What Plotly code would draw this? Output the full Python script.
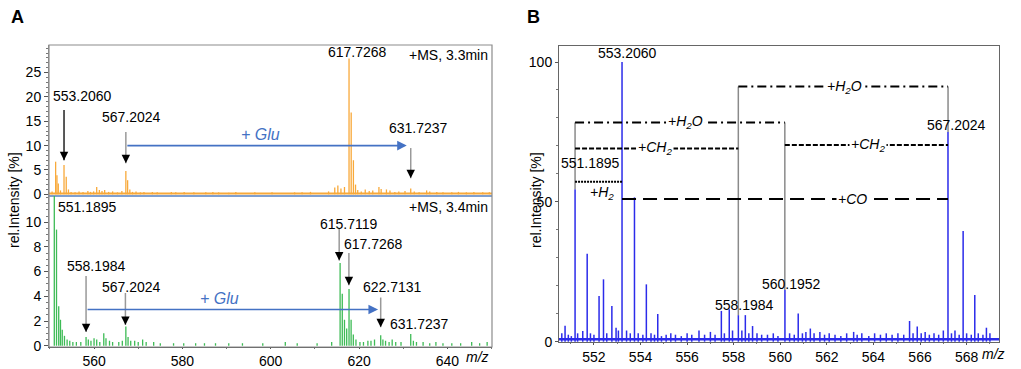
import plotly.graph_objects as go

# ---------------- data ----------------
# Panel A, upper spectrum (+MS, 3.3 min): m/z and rel. intensity [%]
a1_mz = [550.5, 551.3, 551.6, 551.9, 552.4, 553.2, 553.7, 554.2, 554.8, 555.7, 556.6, 557.5, 558.6, 559.2,
         559.9, 560.6, 561.2, 561.8, 562.4, 563.3, 564.2, 565.3, 566.3, 567.2, 567.6, 568.1, 568.7, 569.5,
         570.5, 571.3, 573.2, 574.3, 577.5, 578.5, 580.4, 582.6, 585.3, 586.9, 588.2, 590.5, 592.1, 596.4,
         600.3, 605.4, 607.1, 609.0, 613.1, 614.5, 615.2, 615.9, 616.7, 617.73, 618.22, 618.72, 619.2, 619.7,
         620.5, 621.4, 622.3, 623.1, 624.5, 625.0, 626.2, 627.0, 628.1, 629.0, 630.4, 631.7, 632.5, 633.6,
         635.3, 636.0, 637.6, 639.0, 641.0, 642.5, 644.3, 646.0, 648.0, 649.5]
a1_int = [0.6, 6.7, 3.9, 2.2, 0.8, 6.0, 3.6, 1.0, 0.5, 0.4, 0.6, 0.5, 0.7, 0.5,
          0.6, 1.5, 0.9, 0.7, 0.9, 0.5, 0.6, 0.4, 0.7, 4.8, 2.9, 1.0, 0.5, 0.6,
          0.4, 0.5, 0.5, 0.4, 0.5, 0.4, 0.5, 0.4, 0.4, 0.5, 0.4, 0.3, 0.5, 0.4,
          0.4, 0.4, 0.4, 0.5, 0.6, 1.4, 1.8, 1.2, 1.5, 27.9, 16.8, 7.0, 2.0, 0.9,
          0.6, 1.0, 0.7, 0.8, 1.5, 1.1, 1.0, 0.8, 0.5, 0.6, 0.7, 1.2, 0.6, 0.4,
          0.8, 0.6, 0.5, 0.4, 0.4, 0.5, 0.4, 0.5, 0.4, 0.4]

# Panel A, lower spectrum (+MS, 3.4 min)
a2_mz = [551.0, 551.5, 552.0, 552.4, 552.8, 553.3, 553.9, 554.5, 555.2, 556.0, 557.0, 558.19, 558.7, 559.3,
         560.0, 560.6, 561.3, 562.2, 562.7, 563.5, 564.2, 565.6, 566.4, 567.2, 567.7, 568.3, 569.2, 570.0,
         571.0, 571.8, 573.5, 575.0, 578.0, 580.3, 583.0, 585.0, 587.5, 590.5, 593.6, 598.2, 603.3, 606.0,
         610.5, 613.8, 615.71, 616.2, 616.7, 617.2, 617.73, 618.2, 618.7, 619.3, 620.2, 621.0, 622.0, 622.7,
         623.5, 624.9, 625.4, 626.0, 626.8, 627.5, 628.3, 629.5, 631.7, 632.3, 633.0, 634.5, 636.0, 637.4,
         639.0, 641.0, 643.0, 645.5, 647.3, 649.0]
a2_int = [16.0, 9.4, 3.2, 2.1, 1.3, 0.8, 0.5, 0.4, 0.3, 0.3, 0.3, 0.7, 0.5, 0.4,
          0.6, 0.5, 0.3, 1.0, 0.6, 0.4, 0.3, 0.3, 0.4, 1.55, 0.7, 0.4, 0.4, 0.3,
          0.5, 0.3, 0.3, 0.2, 0.2, 0.2, 0.2, 0.2, 0.2, 0.2, 0.2, 0.2, 0.3, 0.2,
          0.2, 0.3, 6.7, 4.2, 2.1, 1.4, 4.6, 2.1, 0.9, 0.5, 0.3, 0.3, 0.4, 0.4,
          0.5, 0.85, 0.5, 0.4, 0.3, 0.5, 0.3, 0.3, 0.95, 0.4, 0.3, 0.3, 0.2, 0.3,
          0.2, 0.2, 0.2, 0.3, 0.2, 0.3]

# Panel B spectrum
b_mz = [550.62, 550.76, 550.9, 551.03, 551.19, 551.3, 551.52, 551.71, 551.85, 552.0, 552.22, 552.41, 552.55,
        552.77, 552.95, 553.05, 553.206, 553.4, 553.56, 553.74, 553.9, 554.1, 554.25, 554.45, 554.6, 554.74,
        554.9, 555.1, 555.3, 555.5, 555.75, 556.0, 556.2, 556.51, 556.75, 557.0, 557.2, 557.47, 557.6, 557.81,
        557.95, 558.2, 558.35, 558.5, 558.65, 558.81, 559.0, 559.2, 559.45, 559.7, 559.9, 560.2, 560.4, 560.6,
        560.77, 560.95, 561.1, 561.29, 561.45, 561.7, 561.9, 562.1, 562.35, 562.6, 562.85, 563.15, 563.3, 563.5,
        563.8, 564.05, 564.3, 564.55, 564.8, 565.05, 565.3, 565.55, 565.7, 565.88, 566.05, 566.22, 566.4, 566.6,
        566.8, 567.0, 567.2, 567.35, 567.5, 567.68, 567.85, 568.0, 568.2, 568.35, 568.5, 568.7, 568.85, 569.0]
b_int = [3.0, 5.7, 2.5, 2.0, 54.5, 3.0, 3.8, 31.4, 3.0, 2.5, 16.3, 22.3, 3.0,
         12.8, 5.0, 4.0, 100.0, 4.0, 3.0, 51.6, 3.0, 2.5, 20.5, 3.0, 2.5, 9.9,
         2.0, 2.5, 3.0, 2.5, 2.0, 3.0, 2.5, 4.0, 2.5, 3.5, 2.5, 11.0, 3.0, 11.6,
         4.0, 9.5, 4.0, 9.5, 3.0, 5.6, 3.0, 2.5, 2.5, 3.0, 2.0, 18.5, 3.0, 2.5,
         10.1, 3.0, 3.5, 4.7, 3.0, 3.5, 2.5, 3.0, 2.5, 2.0, 3.0, 3.5, 2.5, 3.0,
         2.0, 3.0, 2.5, 3.0, 2.5, 3.0, 2.5, 7.4, 3.0, 5.4, 3.0, 3.5, 2.5, 3.0,
         2.5, 4.0, 75.0, 3.0, 4.0, 2.5, 39.6, 3.0, 2.5, 16.7, 3.0, 2.5, 5.0, 3.0]
b_noise_level = 0.9

# Panel A annotations: (label, label m/z, label y) and arrows (m/z, shaft top, tip)
a1_labels = [("553.2060", 557.3, 20.2), ("567.2024", 568.4, 15.9), ("617.7268", 619.6, 29.2),
             ("631.7237", 633.4, 13.6)]
a1_arrows = [(553.2, 17.3, 7.0, "#222222"), (567.2, 12.8, 6.4, "#999999"), (631.7, 9.5, 3.3, "#999999")]
a1_glu = (567.2, 630.8, 10.0)      # from, to, level
a1_glu_text = (597.6, 12.2)

a2_labels = [("551.1895", 558.6, 11.2), ("558.1984", 560.45, 6.45), ("567.2024", 568.4, 4.75),
             ("615.7119", 617.7, 9.85), ("617.7268", 623.2, 8.2), ("622.7131", 627.5, 4.75),
             ("631.7237", 633.6, 1.76)]
a2_arrows = [(558.19, 5.64, 1.1), (567.1, 4.27, 1.68), (615.5, 9.5, 6.9), (617.7, 7.5, 4.9), (624.9, 3.9, 1.5)]
a2_glu = (558.19, 624.3, 2.93)
a2_glu_text = (588.5, 3.8)

# Panel B: peak labels, connectors and brackets
b_labels = [("553.2060", 553.42, 103.2), ("551.1895", 551.86, 63.8), ("558.1984", 558.48, 13.1),
            ("560.1952", 560.5, 20.5), ("567.2024", 567.55, 77.5)]
b_connectors = [(551.1895, 54.5, 78.4), (558.1984, 9.5, 91.2), (560.1952, 18.5, 78.4), (567.2024, 75.0, 91.2)]
br_from = [551.1895, 551.1895, 551.1895, 553.2060, 558.1984, 560.1952]
br_to = [560.1952, 558.1984, 553.2060, 567.2024, 567.2024, 567.2024]
br_level = [78.4, 69.1, 57.2, 51.0, 91.2, 70.3]
br_label = ["<i>+H<sub>2</sub>O</i>", "<i>+CH<sub>2</sub></i>", "<i>+H<sub>2</sub></i>", "<i>+CO</i>",
            "<i>+H<sub>2</sub>O</i>", "<i>+CH<sub>2</sub></i>"]
br_label_x = [555.95, 554.6, 552.36, 563.1, 562.74, 563.75]
br_label_y = [78.4, 69.1, 53.0, 51.0, 91.2, 70.3]
br_label_bg = [True, True, False, True, True, True]
br_dash = ["9px,4px,2px,4px", "5px,2px", "2px,1px", "14px,7px", "9px,4px,2px,4px", "5px,2px"]

# ---------------- layout constants ----------------
W, H = 1021, 369
FONT = "Arial, 'Liberation Sans', sans-serif"
ORANGE = "#F8A93A"
GREEN = "#3DBB55"
BLUE = "#2B2BEA"
GLU = "#4472C4"


def px(x):
    return x / W


def py(y):
    return 1 - y / H


def sticks(mz, inten, base=0.0):
    xs, ys = [], []
    for m, v in zip(mz, inten):
        xs += [m, m, None]
        ys += [base, v, None]
    return xs, ys


A_X = [px(49), px(492)]
A1_Y = [py(195), py(45)]
A2_Y = [py(347), py(196)]
B_X = [px(559), px(999)]
B_Y = [py(342), py(46)]
A_RANGE = [549.8, 650.1]
B_RANGE = [550.5, 569.39]

fig = go.Figure()

# upper A
x, y = sticks(a1_mz, a1_int)
fig.add_trace(go.Scatter(x=A_RANGE, y=[0.15, 0.15], mode="lines", line=dict(color=ORANGE, width=2),
                         xaxis="x", yaxis="y", hoverinfo="skip"))
fig.add_trace(go.Scatter(x=x, y=y, mode="lines", line=dict(color=ORANGE, width=1.3), xaxis="x", yaxis="y"))
# lower A
x, y = sticks(a2_mz, a2_int)
fig.add_trace(go.Scatter(x=x, y=y, mode="lines", line=dict(color=GREEN, width=1.3), xaxis="x2", yaxis="y2"))
# B
x, y = sticks(b_mz, b_int)
fig.add_trace(go.Scatter(x=B_RANGE, y=[b_noise_level, b_noise_level], mode="lines",
                         line=dict(color=BLUE, width=2.5), xaxis="x3", yaxis="y3", hoverinfo="skip"))
fig.add_trace(go.Scatter(x=x, y=y, mode="lines", line=dict(color=BLUE, width=1.5), xaxis="x3", yaxis="y3"))

ann = []
shapes = []
tf = dict(family=FONT, size=14, color="black")
C = dict(xanchor="center", yanchor="middle")

# Panel A annotations
for (t, lx, ly) in a1_labels:
    ann.append(dict(text=t, x=lx, y=ly, xref="x", yref="y", showarrow=False, font=tf, **C))
for (t, lx, ly) in a2_labels:
    ann.append(dict(text=t, x=lx, y=ly, xref="x2", yref="y2", showarrow=False, font=tf, **C))

for (m, top, tip, col) in a1_arrows:
    shapes.append(dict(type="line", xref="x", yref="y", x0=m, x1=m, y0=top, y1=tip,
                       line=dict(color=col, width=1.5)))
    ann.append(dict(text="", x=m, y=tip, xref="x", yref="y", showarrow=True, ax=0, ay=-6,
                    arrowhead=2, arrowsize=1.3, arrowwidth=1.3, arrowcolor="black"))
for (m, top, tip) in a2_arrows:
    shapes.append(dict(type="line", xref="x2", yref="y2", x0=m, x1=m, y0=top, y1=tip,
                       line=dict(color="#999999", width=1.5)))
    ann.append(dict(text="", x=m, y=tip, xref="x2", yref="y2", showarrow=True, ax=0, ay=-6,
                    arrowhead=2, arrowsize=1.3, arrowwidth=1.3, arrowcolor="black"))

for (g, gt, xr, yr) in [(a1_glu, a1_glu_text, "x", "y"), (a2_glu, a2_glu_text, "x2", "y2")]:
    ann.append(dict(text="", x=g[1], y=g[2], ax=g[0], ay=g[2], xref=xr, yref=yr, axref=xr, ayref=yr,
                    showarrow=True, arrowhead=2, arrowsize=1.2, arrowwidth=1.6, arrowcolor=GLU))
    ann.append(dict(text="<i>+ Glu</i>", x=gt[0], y=gt[1], xref=xr, yref=yr, showarrow=False,
                    font=dict(family=FONT, size=16, color=GLU), **C))

ann.append(dict(text="+MS, 3.3min", x=px(490), y=py(55), xref="paper", yref="paper", xanchor="right",
                yanchor="middle", showarrow=False, font=tf))
ann.append(dict(text="+MS, 3.4min", x=px(490), y=py(207), xref="paper", yref="paper", xanchor="right",
                yanchor="middle", showarrow=False, font=tf))

# Panel B connectors and brackets
for (m, y0, y1) in b_connectors:
    shapes.append(dict(type="line", xref="x3", yref="y3", x0=m, x1=m, y0=y0, y1=y1,
                       line=dict(color="#8a8a8a", width=1.5)))
for f, t, lv, d in zip(br_from, br_to, br_level, br_dash):
    shapes.append(dict(type="line", xref="x3", yref="y3", x0=f, x1=t, y0=lv, y1=lv,
                       line=dict(color="black", width=2, dash=d)))
for lab, lx, ly, bg in zip(br_label, br_label_x, br_label_y, br_label_bg):
    ann.append(dict(text=lab, x=lx, y=ly, xref="x3", yref="y3", showarrow=False, font=tf,
                    bgcolor="white" if bg else None, borderpad=1, **C))
for (t, lx, ly) in b_labels:
    ann.append(dict(text=t, x=lx, y=ly, xref="x3", yref="y3", showarrow=False, font=tf, **C))

# frame of panel A
shapes.append(dict(type="rect", xref="paper", yref="paper", x0=A_X[0], x1=A_X[1], y0=A2_Y[0], y1=A1_Y[1],
                   line=dict(color="#8c8c8c", width=1.2), layer="above"))

# titles and axis labels
ann += [
    dict(text="<b>A</b>", x=px(17), y=py(17), xref="paper", yref="paper", showarrow=False,
         font=dict(family=FONT, size=18, color="black"), **C),
    dict(text="<b>B</b>", x=px(533), y=py(17), xref="paper", yref="paper", showarrow=False,
         font=dict(family=FONT, size=18, color="black"), **C),
    dict(text="rel.Intensity [%]", x=px(14), y=py(200), xref="paper", yref="paper", showarrow=False,
         textangle=-90, font=tf, **C),
    dict(text="rel.Intensity [%]", x=px(536), y=py(200), xref="paper", yref="paper", showarrow=False,
         textangle=-90, font=tf, **C),
    dict(text="<i>m/z</i>", x=px(477), y=py(357), xref="paper", yref="paper", showarrow=False, font=tf, **C),
    dict(text="<i>m/z</i>", x=px(993), y=py(354), xref="paper", yref="paper", showarrow=False, font=tf, **C),
]

axfont = dict(family=FONT, size=14, color="black")
common = dict(showgrid=False, zeroline=False, automargin=False)
fig.update_layout(
    width=W, height=H, margin=dict(l=0, r=0, t=0, b=0, pad=0, autoexpand=False),
    paper_bgcolor="white", plot_bgcolor="white", showlegend=False,
    xaxis=dict(domain=A_X, range=A_RANGE, anchor="y", showticklabels=False, showline=True,
               linecolor="#7F9FCF", linewidth=1.5, ticks="", **common),
    yaxis=dict(domain=A1_Y, range=[-0.14, 30.66], anchor="x", tickvals=[0, 5, 10, 15, 20, 25],
               showline=True, linecolor="#8c8c8c", ticks="outside", ticklen=4,
               tickcolor="#555", tickfont=axfont,
               minor=dict(dtick=1, ticks="outside", ticklen=2, tickcolor="#777"), **common),
    xaxis2=dict(domain=A_X, range=A_RANGE, anchor="y2", tickvals=[560, 580, 600, 620, 640],
                showline=True, linecolor="#555", ticks="outside", ticklen=1, tickcolor="#555",
                tickfont=axfont, minor=dict(dtick=10, ticks="outside", ticklen=1, tickcolor="#777"), **common),
    yaxis2=dict(domain=A2_Y, range=[-0.105, 12.12], anchor="x2", tickvals=[0, 2, 4, 6, 8, 10],
                showline=True, linecolor="#8c8c8c", ticks="outside", ticklen=4,
                tickcolor="#555", tickfont=axfont,
                minor=dict(dtick=0.5, ticks="outside", ticklen=2, tickcolor="#777"), **common),
    xaxis3=dict(domain=B_X, range=B_RANGE, anchor="y3", tickvals=list(range(552, 569, 2)),
                showline=True, mirror=True, linecolor="#666", ticks="outside", ticklen=2,
                tickcolor="#555", tickfont=axfont,
                minor=dict(dtick=1, ticks="outside", ticklen=1, tickcolor="#777"), **common),
    yaxis3=dict(domain=B_Y, range=[-0.107, 105.72], anchor="x3", tickvals=[0, 50, 100],
                showline=True, mirror=True, linecolor="#666", ticks="outside", ticklen=3,
                tickcolor="#555", tickfont=axfont,
                minor=dict(dtick=10, ticks="outside", ticklen=2, tickcolor="#777"), **common),
    annotations=ann, shapes=shapes,
)

fig.write_html("out.html", config={"responsive": False, "displayModeBar": False},
               post_script="document.body.style.margin='0px';document.body.style.overflow='hidden';")
